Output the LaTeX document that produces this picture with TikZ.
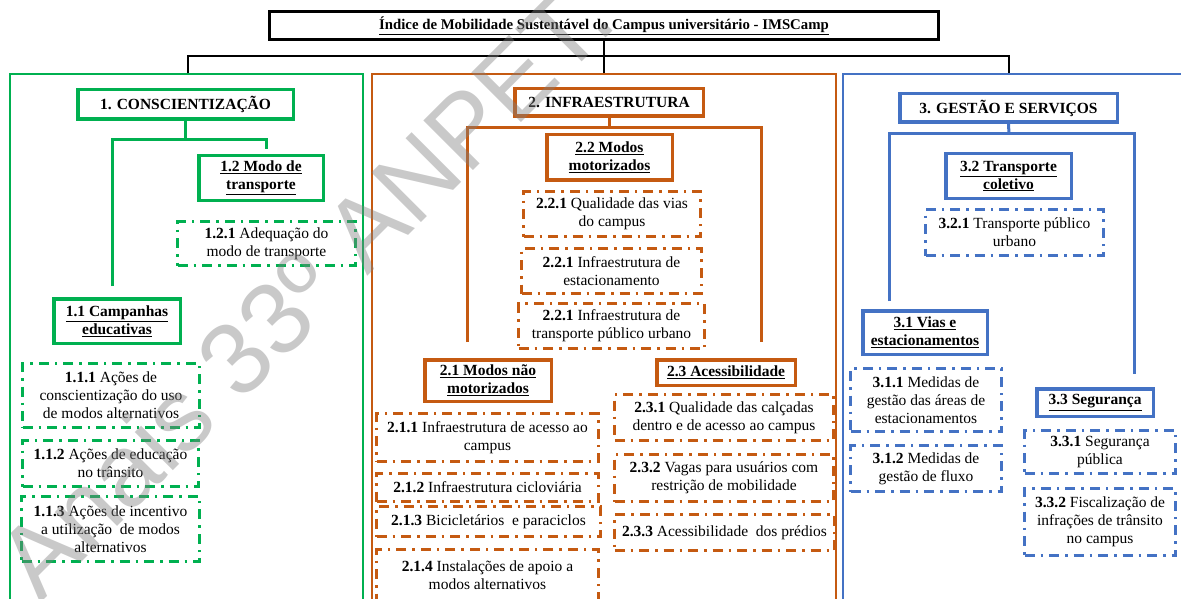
\documentclass[tikz,border=0pt]{standalone}
\usepackage{fontspec}
\setmainfont{Liberation Serif}
\newfontfamily\wmfont{Liberation Sans}
\definecolor{cg}{HTML}{00B050}
\definecolor{co}{HTML}{C55A11}
\definecolor{cb}{HTML}{4472C4}
\begin{document}
\begin{tikzpicture}[x=1pt,y=-1pt,
  sz/.style n args={2}{minimum width=#1,minimum height=#2},
  txt/.style={font=\fontsize{15.5}{18}\selectfont, align=center, inner sep=0pt},
  head/.style={txt, draw=#1, line width=3.5pt, font=\fontsize{15.5}{18}\selectfont\bfseries},
  subbox/.style={txt, draw=#1, line width=3pt, dash pattern=on 10pt off 6pt on 2.5pt off 6pt},
  conn/.style={draw=#1, line width=3pt},
  panel/.style={draw=#1, line width=1.3pt, inner sep=0pt},
  wire/.style={draw=black, line width=1.3pt}]
\useasboundingbox (0,0) rectangle (1181,599);
\clip (0,0) rectangle (1181,599);
\fill[white] (0,0) rectangle (1181,599);

% title and panels
\node[draw=black, line width=3pt, sz={669}{28}, inner sep=0pt,
      font=\fontsize{14.8}{17}\selectfont\bfseries] (title) at (604,25.5)
  {\underline{Índice de Mobilidade Sustentável do Campus universitário - IMSCamp}};
\node[panel=cg, sz={353}{540}] (p1) at (186.5,344) {};
\node[panel=co, sz={464}{540}] (p2) at (604,344) {};
\node[panel=cb, sz={350}{540}] (p3) at (1018,344) {};

% ---- green
\node[head=cg, sz={215.5}{29.5}] (h1) at (185.5,104.5) {1. CONSCIENTIZAÇÃO};
\node[head=cg, sz={124.5}{44.5}] (b12) at (261,178) {\underline{1.2 Modo de}\\\underline{transporte}};
\node[subbox=cg, sz={178}{44}] (s121) at (266.5,243.5) {\textbf{1.2.1} Adequação do\\modo de transporte};
\node[head=cg, sz={126.5}{44.5}] (b11) at (117,321) {\underline{1.1 Campanhas}\\\underline{educativas}};
\node[subbox=cg, sz={177}{64}] (s111) at (111,395.5) {\textbf{1.1.1} Ações de\\conscientização do uso\\de modos alternativos};
\node[subbox=cg, sz={176}{46}] (s112) at (110.5,463.5) {\textbf{1.1.2} Ações de educação\\no trânsito};
\node[subbox=cg, sz={178}{65}] (s113) at (110.5,529) {\textbf{1.1.3} Ações de incentivo\\a utilização\ \ de modos\\alternativos};
\coordinate (g0) at (185.5,140);
\coordinate (gl) at (112,286);
\coordinate (gr) at (266,149);
\draw[conn=cg] (h1.south) -- (g0);
\draw[conn=cg] (gl) -- (gl |- g0) -- (gr |- g0) -- (gr);

% ---- orange
\node[head=co, sz={188.5}{27.5}] (h2) at (609,102.5) {2. INFRAESTRUTURA};
\node[head=co, sz={125.5}{45.5}] (b22) at (609.5,157.5) {\underline{2.2 Modos}\\\underline{motorizados}};
\node[subbox=co, sz={177}{45}] (s221a) at (612,214) {\textbf{2.2.1} Qualidade das vias\\do campus};
\node[subbox=co, sz={180}{45}] (s221b) at (611.5,271) {\textbf{2.2.1} Infraestrutura de\\estacionamento};
\node[subbox=co, sz={186}{45}] (s221c) at (611.5,326) {\textbf{2.2.1} Infraestrutura de\\transporte público urbano};
\node[head=co, sz={126.5}{41.5}] (b21) at (488,380.5) {\underline{2.1 Modos não}\\\underline{motorizados}};
\node[head=co, sz={138.5}{25.5}] (b23) at (726,372.5) {\underline{2.3 Acessibilidade}};
\node[subbox=co, sz={222}{48}] (s211) at (487.5,437.5) {\textbf{2.1.1} Infraestrutura de acesso ao\\campus};
\node[subbox=co, sz={222}{28}] (s212) at (487.5,487.5) {\textbf{2.1.2} Infraestrutura cicloviária};
\node[subbox=co, sz={224}{30}] (s213) at (488.5,521.5) {\textbf{2.1.3} Bicicletários\ \ e paraciclos};
\node[subbox=co, sz={222}{51}] (s214) at (487.5,575) {\textbf{2.1.4} Instalações de apoio a\\modos alternativos};
\node[subbox=co, sz={219}{46}] (s231) at (724,417.5) {\textbf{2.3.1} Qualidade das calçadas\\dentro e de acesso ao campus};
\node[subbox=co, sz={219}{47}] (s232) at (724,478) {\textbf{2.3.2} Vagas para usuários com\\restrição de mobilidade};
\node[subbox=co, sz={220}{36}] (s233) at (724.5,532.5) {\textbf{2.3.3} Acessibilidade\ \ dos prédios};
\coordinate (o0) at (609,128);
\coordinate (ol) at (467,342);
\coordinate (or) at (761,342);
\draw[conn=co] (h2.south) -- (o0);
\draw[conn=co] (ol) -- (ol |- o0) -- (or |- o0) -- (or);

% ---- blue
\node[head=cb, sz={217.5}{28.5}] (h3) at (1008.5,108) {3. GESTÃO E SERVIÇOS};
\node[head=cb, sz={125.5}{44.5}] (b32) at (1008.5,176) {\underline{3.2 Transporte}\\\underline{coletivo}};
\node[subbox=cb, sz={178}{46}] (s321) at (1014.5,232.5) {\textbf{3.2.1} Transporte público\\urbano};
\node[head=cb, sz={124.5}{43.5}] (b31) at (925,332.5) {\underline{3.1 Vias e}\\\underline{estacionamentos}};
\node[subbox=cb, sz={151}{63}] (s311) at (926,400) {\textbf{3.1.1} Medidas de\\gestão das áreas de\\estacionamentos};
\node[subbox=cb, sz={151}{46}] (s312) at (926,468.5) {\textbf{3.1.2} Medidas de\\gestão de fluxo};
\node[head=cb, sz={116.5}{27.5}] (b33) at (1095,402.5) {\underline{3.3 Segurança}};
\node[subbox=cb, sz={151}{43}] (s331) at (1100,452) {\textbf{3.3.1} Segurança\\pública};
\node[subbox=cb, sz={151}{67}] (s332) at (1100,522) {\textbf{3.3.2} Fiscalização de\\infrações de trânsito\\no campus};
\coordinate (b0) at (1009,134);
\coordinate (bl) at (889,301);
\coordinate (br) at (1134,374);
\draw[conn=cb] (h3.south) -- (b0);
\draw[conn=cb] (bl) -- (bl |- b0) -- (br |- b0) -- (br);

% ---- black wires from title to panels
\draw[wire] (title.south) -- (title.south |- p2.north);
\draw[wire] (188,0 |- p1.north) -- (188,56) -- (1009,56) -- (1009,0 |- p3.north);

% ---- watermark
\node[font=\wmfont\fontsize{102}{102}\selectfont, text=gray, opacity=0.42,
      rotate=45, anchor=base west, inner sep=0pt] (wm) at (40,604) {Anais 33º ANPET. V};
\end{tikzpicture}
\end{document}
